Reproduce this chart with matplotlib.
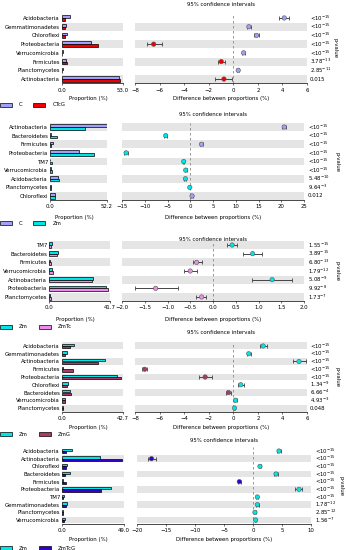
import numpy as np
import matplotlib
matplotlib.use("Agg")
import matplotlib.pyplot as plt
import matplotlib.transforms as mt
from matplotlib.patches import Patch

W, H = 346, 550
FS = 3.9

# group colours
col_C = '#a0a0ff'
col_CTcG = '#ee0000'
col_Zm = '#00e5e5'
col_ZmTc = '#ee8cee'
col_ZmG = '#aa3a66'
col_ZmTcG = '#3300cc'

# ---- panel 1: C vs CTcG
p1_taxa = ['Acidobacteria', 'Gemmatimonadetes', 'Chloroflexi', 'Proteobacteria',
           'Verrucomicrobia', 'Firmicutes', 'Planctomycetes', 'Actinobacteria']
p1_a = [7.0, 3.8, 4.5, 24.9, 1.2, 3.2, 0.6, 49.9]
p1_b = [2.9, 2.6, 2.7, 31.4, 0.4, 4.2, 0.25, 50.7]
p1_diff = [4.15, 1.27, 1.9, -6.48, 0.84, -0.98, 0.4, -0.76]
p1_lo = [3.75, 1.1, 1.7, -7.05, 0.72, -1.22, 0.3, -1.5]
p1_hi = [4.5, 1.42, 2.08, -5.83, 0.95, -0.7, 0.48, -0.14]
p1_p = ['<10$^{-15}$'] * 5 + ['3.78$^{-13}$', '2.85$^{-11}$', '0.015']
p1_max = 53.0
p1_ticks = [-8, -6, -4, -2, 0, 2, 4, 6]

# ---- panel 2: C vs Zm
p2_taxa = ['Actinobacteria', 'Bacteroidetes', 'Firmicutes', 'Proteobacteria', 'TM7',
           'Verrucomicrobia', 'Acidobacteria', 'Planctomycetes', 'Chloroflexi']
p2_a = [52.2, 0.6, 3.1, 26.4, 0.4, 0.8, 7.0, 0.5, 4.8]
p2_b = [31.6, 6.1, 0.7, 40.7, 1.8, 1.8, 8.1, 0.6, 4.4]
p2_diff = [20.65, -5.4, 2.46, -14.1, -1.44, -1.0, -1.07, -0.1, 0.4]
p2_lo = [20.2, -5.7, 2.2, -14.5, -1.6, -1.2, -1.3, -0.25, 0.2]
p2_hi = [21.1, -5.1, 2.7, -13.7, -1.28, -0.8, -0.85, 0.05, 0.6]
p2_p = ['<10$^{-15}$'] * 6 + ['5.48$^{-10}$', '9.64$^{-3}$', '0.012']
p2_max = 52.2
p2_ticks = [-15, -10, -5, 0, 5, 10, 15, 20, 25]

# ---- panel 3: Zm vs ZmTc
p3_taxa = ['TM7', 'Bacteroidetes', 'Firmicutes', 'Verrucomicrobia', 'Actinobacteria',
           'Proteobacteria', 'Planctomycetes']
p3_a = [1.8, 6.4, 0.8, 1.9, 30.4, 39.0, 0.8]
p3_b = [1.4, 5.5, 1.15, 2.4, 29.1, 40.25, 1.05]
p3_diff = [0.42, 0.87, -0.36, -0.5, 1.3, -1.26, -0.25]
p3_lo = [0.3, 0.66, -0.45, -0.64, 0.86, -1.72, -0.37]
p3_hi = [0.53, 1.08, -0.25, -0.36, 1.73, -0.78, -0.15]
p3_p = ['1.55$^{-15}$', '3.89$^{-15}$', '6.80$^{-13}$', '1.79$^{-12}$',
        '5.08$^{-9}$', '9.92$^{-8}$', '1.73$^{-7}$']
p3_max = 41.7
p3_ticks = [-2.0, -1.5, -1.0, -0.5, 0.0, 0.5, 1.0, 1.5, 2.0]

# ---- panel 4: Zm vs ZmG
p4_taxa = ['Acidobacteria', 'Gemmatimonadetes', 'Actinobacteria', 'Firmicutes',
           'Proteobacteria', 'Chloroflexi', 'Bacteroidetes', 'Verrucomicrobia', 'Planctomycetes']
p4_a = [8.1, 3.6, 30.4, 0.6, 38.6, 4.3, 5.9, 2.0, 0.9]
p4_b = [5.7, 2.35, 25.1, 7.8, 40.95, 3.7, 6.4, 1.8, 0.8]
p4_diff = [2.43, 1.26, 5.35, -7.21, -2.29, 0.61, -0.39, 0.18, 0.1]
p4_lo = [2.15, 1.1, 4.86, -7.4, -2.8, 0.4, -0.6, 0.08, 0.02]
p4_hi = [2.75, 1.42, 5.89, -7.02, -1.77, 0.86, -0.15, 0.28, 0.18]
p4_p = ['<10$^{-15}$'] * 5 + ['1.34$^{-9}$', '6.66$^{-4}$', '4.93$^{-3}$', '0.048']
p4_max = 42.7
p4_ticks = [-8, -6, -4, -2, 0, 2, 4, 6]

# ---- panel 5: Zm vs ZmTcG
p5_taxa = ['Acidobacteria', 'Actinobacteria', 'Chloroflexi', 'Bacteroidetes', 'Firmicutes',
           'Proteobacteria', 'TM7', 'Gemmatimonadetes', 'Planctomycetes', 'Verrucomicrobia']
p5_a = [7.9, 30.0, 4.2, 6.0, 0.8, 38.9, 1.6, 3.6, 0.9, 2.0]
p5_b = [3.4, 47.5, 3.0, 2.0, 3.0, 31.0, 0.9, 2.9, 0.5, 1.5]
p5_diff = [4.48, -17.5, 1.2, 3.97, -2.36, 7.93, 0.75, 0.75, 0.34, 0.46]
p5_lo = [4.2, -18.1, 1.0, 3.7, -2.55, 7.3, 0.6, 0.55, 0.25, 0.3]
p5_hi = [4.8, -16.8, 1.4, 4.25, -2.15, 8.45, 0.9, 0.95, 0.45, 0.6]
p5_p = ['<10$^{-15}$'] * 7 + ['1.78$^{-12}$', '2.85$^{-12}$', '1.56$^{-7}$']
p5_max = 49.0
p5_ticks = [-20, -15, -10, -5, 0, 5, 10]

fig = plt.figure(figsize=(W / 100, H / 100), dpi=100)


def add_ax(l, t, r, b):
    return fig.add_axes([l / W, 1 - b / H, (r - l) / W, (b - t) / H])


def style_x(ax):
    for s in ['top', 'right', 'left']:
        ax.spines[s].set_visible(False)
    ax.spines['bottom'].set_linewidth(0.5)
    ax.tick_params(axis='x', length=1.5, width=0.4, pad=1.5, labelsize=FS)
    ax.tick_params(axis='y', length=0)


def bands(ax, n):
    # grey stripe on every other row, counted from the bottom row
    for i in range(n):
        if (n - 1 - i) % 2 == 0:
            ax.axhspan(i - 0.45, i + 0.45, color='#e5e5e5', lw=0, zorder=0)


def panel(taxa, a, b, diff, lo, hi, pvals, pmax, dticks, names, cols, box):
    top, bot, bl, br, dl, dr, pvx, plx, ty, xly, lgy, dec = box
    n = len(taxa)
    y = np.arange(n)

    # proportions
    ax = add_ax(bl, top, br, bot)
    bands(ax, n)
    ax.barh(y - 0.16, a, height=0.3, color=cols[0], edgecolor='k', lw=0.5, zorder=2)
    ax.barh(y + 0.16, b, height=0.3, color=cols[1], edgecolor='k', lw=0.5, zorder=2)
    ax.set_xlim(0, pmax)
    ax.set_ylim(n - 0.5, -0.5)
    ax.set_xticks([0, pmax])
    ax.set_xticklabels(['0.0', f'{pmax:.1f}'])
    ax.set_yticks(y)
    ax.set_yticklabels(taxa, fontsize=FS)
    ax.tick_params(axis='y', pad=1.5)
    style_x(ax)
    fig.text((bl + br) / 2 / W - 0.012, 1 - xly / H, 'Proportion (%)', fontsize=FS,
             ha='center', va='center')

    # differences
    dx = add_ax(dl, top, dr, bot)
    bands(dx, n)
    dx.axvline(0, color='#888888', lw=0.6, ls=(0, (3, 3)), zorder=1)
    d = np.array(diff)
    dx.errorbar(d, y, xerr=[d - np.array(lo), np.array(hi) - d], fmt='none',
                ecolor='#444444', elinewidth=0.7, capsize=1.3, capthick=0.6, zorder=2)
    pc = [cols[0] if v > 0 else cols[1] for v in d]
    dx.scatter(d, y, s=10, c=pc, edgecolors='#555555', linewidths=0.4, zorder=3)
    dx.set_xlim(dticks[0], dticks[-1])
    dx.set_ylim(n - 0.5, -0.5)
    dx.set_xticks(dticks)
    dx.set_xticklabels([f'{t:.{dec}f}'.replace('-', '\u2212') for t in dticks])
    dx.set_yticks([])
    style_x(dx)
    fig.text((dl + dr) / 2 / W, 1 - ty / H, '95% confidence intervals', fontsize=FS,
             ha='center', va='center')
    fig.text((dl + dr) / 2 / W, 1 - xly / H, 'Difference between proportions (%)',
             fontsize=FS, ha='center', va='center')

    # p-values
    tr = mt.blended_transform_factory(fig.transFigure, dx.transData)
    for i, p in enumerate(pvals):
        dx.text(pvx / W, i, p, transform=tr, fontsize=FS, va='center', ha='left',
                clip_on=False)
    fig.text(plx / W, 1 - (top + bot) / 2 / H, 'p-value', rotation=270, fontsize=FS,
             ha='center', va='center')

    hs = [Patch(facecolor=cols[0], edgecolor='k', lw=0.5, label=names[0]),
          Patch(facecolor=cols[1], edgecolor='k', lw=0.5, label=names[1])]
    fig.legend(handles=hs, loc='center left', bbox_to_anchor=(0.0, 1 - lgy / H),
               ncol=2, frameon=False, fontsize=FS, handlelength=2.2, handleheight=0.7,
               handletextpad=1.3, columnspacing=2.0, borderpad=0, borderaxespad=0)


boxes = [
    (13.6, 83.4, 62, 123, 135, 307, 310, 335, 5, 99, 105, 0),
    (122.7, 200.3, 50, 107, 122, 304, 308, 337, 115, 218, 223, 0),
    (240.7, 301.3, 49, 110, 122, 304, 308, 337, 240, 320, 327, 1),
    (342.1, 411.9, 62, 123, 135, 307, 310, 337, 333, 428, 434, 0),
    (447.2, 523.8, 62, 124, 137, 311, 315, 341, 440, 539, 548, 0),
]

panels = [
    (p1_taxa, p1_a, p1_b, p1_diff, p1_lo, p1_hi, p1_p, p1_max, p1_ticks, ('C', 'CTcG'), (col_C, col_CTcG)),
    (p2_taxa, p2_a, p2_b, p2_diff, p2_lo, p2_hi, p2_p, p2_max, p2_ticks, ('C', 'Zm'), (col_C, col_Zm)),
    (p3_taxa, p3_a, p3_b, p3_diff, p3_lo, p3_hi, p3_p, p3_max, p3_ticks, ('Zm', 'ZmTc'), (col_Zm, col_ZmTc)),
    (p4_taxa, p4_a, p4_b, p4_diff, p4_lo, p4_hi, p4_p, p4_max, p4_ticks, ('Zm', 'ZmG'), (col_Zm, col_ZmG)),
    (p5_taxa, p5_a, p5_b, p5_diff, p5_lo, p5_hi, p5_p, p5_max, p5_ticks, ('Zm', 'ZmTcG'), (col_Zm, col_ZmTcG)),
]

for pan, box in zip(panels, boxes):
    panel(*pan, box)

fig.savefig('out.png', dpi=100)
